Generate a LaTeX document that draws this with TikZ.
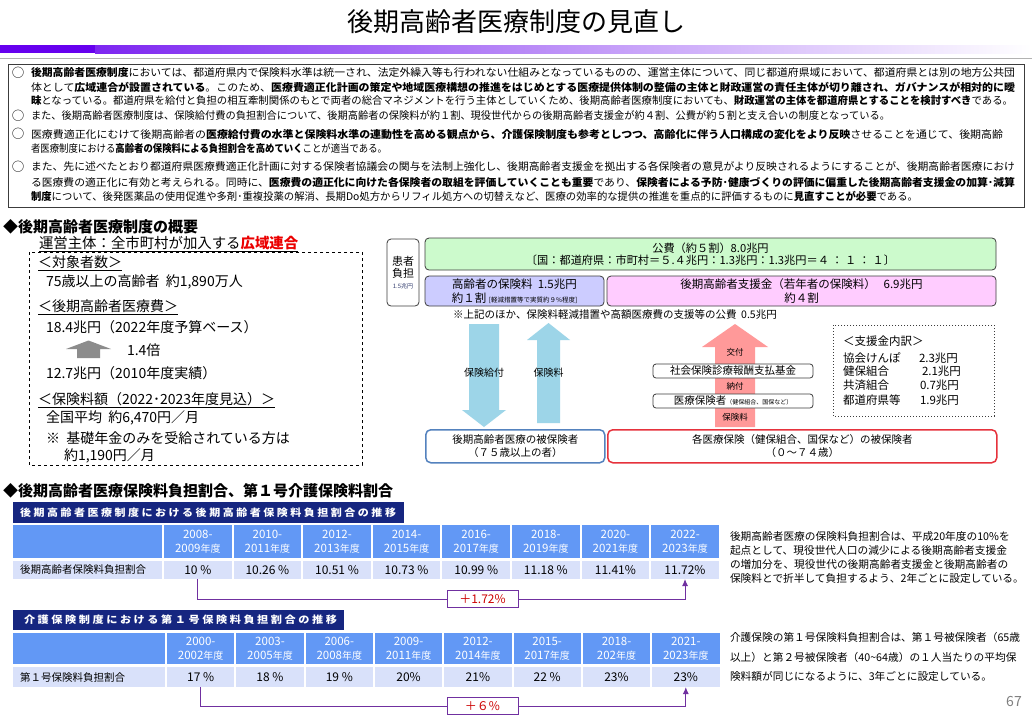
\documentclass[tikz,border=0pt]{standalone}
\usepackage{fontspec}
\usepackage{graphicx}
\setmainfont{Noto Sans CJK JP}
\usetikzlibrary{arrows.meta}
\definecolor{barpurple}{RGB}{102,0,238}
\definecolor{kgreen}{RGB}{204,250,204}
\definecolor{klav}{RGB}{204,204,255}
\definecolor{kpink}{RGB}{255,204,255}
\definecolor{lblue}{RGB}{157,213,232}
\definecolor{lpink}{RGB}{255,153,153}
\definecolor{bblue}{RGB}{84,130,190}
\definecolor{rred}{RGB}{230,50,60}
\definecolor{navy}{RGB}{22,38,128}
\definecolor{thblue}{RGB}{98,152,245}
\definecolor{tdata}{RGB}{217,225,250}
\definecolor{bpurp}{RGB}{112,48,160}
\definecolor{tred}{RGB}{204,0,0}
\definecolor{kred}{RGB}{235,0,0}
\definecolor{dgray}{RGB}{60,60,60}
\definecolor{txt}{RGB}{0,0,0}
\definecolor{smallblue}{RGB}{50,60,110}
\newcommand{\fitw}[2]{\resizebox{#1pt}{\height}{#2}}
\newcommand{\fsz}[2]{\fontsize{#1}{#2}\selectfont}
\newcommand{\yrs}[2]{#1-\\#2{\fsz{10}{14}年度}}
\tikzset{
  tl/.style={anchor=west, inner sep=0, outer sep=0},
  rbox/.style={draw=dgray, rounded corners=4, line width=0.8, inner sep=0, outer sep=0},
  hcell/.style={fill=thblue, text=white, inner sep=0, outer sep=0, minimum height=33, align=center, anchor=north west, font=\fsz{11.5}{14}},
  dcell/.style={fill=tdata, text=txt, inner sep=0, outer sep=0, anchor=north west, font=\fsz{12}{14}},
  brk/.style={draw=bpurp, line width=1},
  labbox/.style={draw=bpurp, fill=white, line width=0.9, text=tred, minimum width=71, minimum height=17, inner sep=0, font=\fsz{12}{14}},
  bartxt/.style={tl, text=white, font=\bfseries\fsz{10}{11}},
  circ/.style={tl, font=\fsz{12.5}{13}},
}
\begin{document}
\begin{tikzpicture}[x=1pt,y=-1pt]
\useasboundingbox (0,0) rectangle (1032,715);
\fill[white] (0,0) rectangle (1032,715);
% title
\node[font=\fsz{26}{30}, inner sep=0] (title) at (516,22) {後期高齢者医療制度の見直し};
\fill[barpurple] (0,45) rectangle (95,53);
\shade[left color=barpurple!85, right color=white] (95,45) rectangle (1032,53);
\draw[gray!60, line width=1] (0,58.5) -- (1032,58.5);
% top box
\node[draw=dgray, line width=1.3, minimum width=1016, minimum height=143, anchor=north west, inner sep=0] (topbox) at (8,64) {};
\begin{scope}[every node/.append style={font=\fsz{10.5}{12}, text=txt}]
\node[circ] (c1) at (12,73) {○};
\node[tl] (l1) at (31,73) {\fitw{984}{\textbf{後期高齢者医療制度}においては、都道府県内で保険料水準は統一され、法定外繰入等も行われない仕組みとなっているものの、運営主体について、同じ都道府県域において、都道府県とは別の地方公共団}};
\node[tl] (l2) at (31,87) {\fitw{984}{体として\textbf{広域連合が設置されている}。このため、\textbf{医療費適正化計画の策定や地域医療構想の推進をはじめとする医療提供体制の整備の主体と財政運営の責任主体が切り離され、ガバナンスが相対的に曖}}};
\node[tl] (l3) at (31,101) {\fitw{982}{\textbf{昧}となっている。都道府県を給付と負担の相互牽制関係のもとで両者の総合マネジメントを行う主体としていくため、後期高齢者医療制度においても、\textbf{財政運営の主体を都道府県とすることを検討すべき}である。}};
\node[circ] (c2) at (12,116) {○};
\node[tl] (l4) at (31,116) {\fitw{859}{また、後期高齢者医療制度は、保険給付費の負担割合について、後期高齢者の保険料が約１割、現役世代からの後期高齢者支援金が約４割、公費が約５割と支え合いの制度となっている。}};
\node[circ] (c3) at (12,134) {○};
\node[tl] (l5) at (31,134) {\fitw{972}{医療費適正化にむけて後期高齢者の\textbf{医療給付費の水準と保険料水準の連動性を高める観点から、介護保険制度も参考としつつ、高齢化に伴う人口構成の変化をより反映}させることを通じて、後期高齢}};
\node[tl] (l6) at (31,149) {\fitw{356}{者医療制度における\textbf{高齢者の保険料による負担割合を高めていく}ことが適当である。}};
\node[circ] (c4) at (12,167) {○};
\node[tl] (l7) at (31,167) {\fitw{984}{また、先に述べたとおり都道府県医療費適正化計画に対する保険者協議会の関与を法制上強化し、後期高齢者支援金を拠出する各保険者の意見がより反映されるようにすることが、後期高齢者医療におけ}};
\node[tl] (l8) at (31,182) {\fitw{984}{る医療費の適正化に有効と考えられる。同時に、\textbf{医療費の適正化に向けた各保険者の取組を評価していくことも重要}であり、\textbf{保険者による予防･健康づくりの評価に偏重した後期高齢者支援金の加算･減算}}};
\node[tl] (l9) at (31,196) {\fitw{887}{\textbf{制度}について、後発医薬品の使用促進や多剤･重複投薬の解消、長期Do処方からリフィル処方への切替えなど、医療の効率的な提供の推進を重点的に評価するものに\textbf{見直すことが必要}である。}};
\end{scope}
% section 2 left
\node[tl, font=\bfseries\fsz{15}{17}] (sec2) at (3,227) {◆後期高齢者医療制度の概要};
\node[tl, font=\fsz{14.4}{17}] (unei) at (39,244) {\underline{運営主体：全市町村が加入する\textbf{\color{kred}広域連合}}};
\draw[dashed, line width=0.8] (29,252) rectangle (362,465);
\begin{scope}[every node/.append style={font=\fsz{14}{17}, text=txt}]
\node[tl] (t1) at (38,263) {\underline{＜対象者数＞}};
\node[tl] (t2) at (46,282) {75歳以上の高齢者\ \ 約1,890万人};
\node[tl] (t3) at (38,307) {\underline{＜後期高齢者医療費＞}};
\node[tl] (t4) at (46,327) {18.4兆円（2022年度予算ベース）};
\node[tl] (t5) at (127,350) {1.4倍};
\node[tl] (t6) at (46,373) {12.7兆円（2010年度実績）};
\node[tl] (t7) at (38,400) {\underline{＜保険料額（2022･2023年度見込）＞}};
\node[tl] (t8) at (46,418) {全国平均\ \ 約6,470円／月};
\node[tl] (t9) at (46,438) {※\ \ 基礎年金のみを受給されている方は};
\node[tl] (t10) at (64,456) {約1,190円／月};
\end{scope}
\fill[gray!90] (88.5,340.5) -- (111,349) -- (100,349) -- (100,358) -- (77,358) -- (77,349) -- (66,349) -- cycle;
% right diagram
\node[rbox, fill=white, minimum width=32, minimum height=67, align=center, font=\fsz{11}{12}] (kanja) at (403,272.5) {患者\\負担\\[-1pt]{\fsz{6}{7}\color{smallblue}1.5兆円}};
\node[rbox, fill=kgreen, minimum width=571, minimum height=32, anchor=north west, align=center, font=\fsz{11.2}{12.5}] (kouhi) at (425,238) {公費（約５割）8.0兆円\\〔国：都道府県：市町村＝５.４兆円：1.3兆円：1.3兆円＝４ ： １ ： １〕};
\node[rbox, fill=klav, minimum width=179, minimum height=30, anchor=north west, align=center, font=\fsz{11.5}{14}] (hokenryo) at (425,276) {高齢者の保険料\ \ 1.5兆円\\約１割 {\fsz{6.5}{8}[軽減措置等で実質約９\%程度]}};
\node[rbox, fill=kpink, minimum width=389, minimum height=30, anchor=north west, align=center, font=\fsz{11.5}{14}] (shienkin) at (607,276) {後期高齢者支援金（若年者の保険料）\ \ \ 6.9兆円\\約４割};
\node[font=\fsz{10.5}{12}, inner sep=0] (note) at (615,315) {※上記のほか、保険料軽減措置や高額医療費の支援等の公費\ \ 0.5兆円};
% block arrows
\fill[lblue] (469,324) -- (499,324) -- (499,410) -- (506,410) -- (484,427) -- (462,410) -- (469,410) -- cycle;
\fill[lblue] (548.5,323) -- (570,340) -- (560,340) -- (560,423) -- (537,423) -- (537,340) -- (527,340) -- cycle;
\fill[lpink] (735,324) -- (768,347) -- (755,347) -- (755,427) -- (715,427) -- (715,347) -- (702,347) -- cycle;
\node[font=\fsz{10}{12}, text=txt, inner sep=0] (kyufu) at (484,373) {保険給付};
\node[font=\fsz{10}{12}, text=txt, inner sep=0] (ryo) at (548.5,373) {保険料};
\node[font=\fsz{8.5}{10}, text=txt, inner sep=0] (kofu) at (735,352) {交付};
\node[rbox, rounded corners=3, fill=white, minimum width=160, minimum height=14, font=\fsz{10.5}{12}] (kikin) at (733,371) {社会保険診療報酬支払基金};
\node[font=\fsz{8.5}{10}, text=txt, inner sep=0] (nofu) at (735,386) {納付};
\node[rbox, rounded corners=3, fill=white, minimum width=160, minimum height=14, font=\fsz{10.5}{12}] (hokensha) at (733,401) {医療保険者{\fsz{6}{7}（健保組合、国保など）}};
\node[font=\fsz{8.5}{10}, text=txt, inner sep=0] (ryo2) at (735,417) {保険料};
\node[draw=bblue, line width=1.5, rounded corners=5, fill=white, minimum width=179, minimum height=33, anchor=north west, align=center, inner sep=0, font=\fsz{10.5}{12.5}] (hiho1) at (425,429) {後期高齢者医療の被保険者\\（７５歳以上の者）};
\node[draw=rred, line width=1.5, rounded corners=5, fill=white, minimum width=389, minimum height=33, anchor=north west, align=center, inner sep=0, font=\fsz{10.5}{12.5}] (hiho2) at (607,429) {各医療保険（健保組合、国保など）の被保険者\\（０～７４歳）};
\draw[dotted, line width=1, dgray] (833,325) rectangle (994,416);
\begin{scope}[every node/.append style={font=\fsz{11.5}{13}, text=txt}]
\node[tl] (u0) at (843,341) {＜支援金内訳＞};
\node[tl] (u1) at (843,358) {協会けんぽ};
\node[tl] (u1v) at (919,358) {2.3兆円};
\node[tl] (u2) at (843,371) {健保組合};
\node[tl] (u2v) at (922,371) {2.1兆円};
\node[tl] (u3) at (843,385) {共済組合};
\node[tl] (u3v) at (920,385) {0.7兆円};
\node[tl] (u4) at (843,400) {都道府県等};
\node[tl] (u4v) at (920,400) {1.9兆円};
\end{scope}
% section 3
\node[tl, font=\bfseries\fsz{15}{17}] (sec3) at (3,491) {◆後期高齢者医療保険料負担割合、第１号介護保険料割合};
% table 1
\fill[navy] (13,502) rectangle (404,523);
\node[bartxt] (bar1) at (20,512.5) {\fitw{376}{後 期 高 齢 者 医 療 制 度 に お け る 後 期 高 齢 者 保 険 料 負 担 割 合 の 推 移}};
\node[hcell, minimum width=149] (h1l) at (13,525) {};
\foreach \i/\a/\b in {0/2008/2009,1/2010/2011,2/2012/2013,3/2014/2015,4/2016/2017,5/2018/2019,6/2020/2021,7/2022/2023}
  \node[hcell, minimum width=67.6] (h1\i) at ({164+69.6*\i},525) {\yrs{\a}{\b}};
\node[dcell, minimum width=149, minimum height=18, text width=135, align=left, font=\fsz{10.5}{12}] (d1l) at (13,561) {後期高齢者保険料負担割合};
\foreach \i/\v in {0/10 \%,1/10.26 \%,2/10.51 \%,3/10.73 \%,4/10.99 \%,5/11.18 \%,6/11.41\%,7/11.72\%}
  \node[dcell, minimum width=67.6, minimum height=18] (v1\i) at ({164+69.6*\i},561) {\v};
\node[labbox] (lab1) at (482.5,599) {＋1.72\%};
\draw[brk] (v10.south) |- (lab1.west);
\draw[brk, -{Latex[length=7pt,width=6pt]}] (lab1.east) -| (v17.south);
\node[tl, align=left, font=\fsz{10.7}{14}, text=txt] (desc1) at (730,557) {後期高齢者医療の保険料負担割合は、平成20年度の10\%を\\起点として、現役世代人口の減少による後期高齢者支援金\\の増加分を、現役世代の後期高齢者支援金と後期高齢者の\\保険料とで折半して負担するよう、2年ごとに設定している。};
% table 2
\fill[navy] (13,610) rectangle (344,630);
\node[bartxt] (bar2) at (24,620) {\fitw{313}{介 護 保 険 制 度 に お け る 第 １ 号 保 険 料 負 担 割 合 の 推 移}};
\node[hcell, minimum width=152, minimum height=31] (h2l) at (13,633) {};
\foreach \i/\a/\b in {0/2000/2002,1/2003/2005,2/2006/2008,3/2009/2011,4/2012/2014,5/2015/2017,6/2018/202,7/2021/2023}
  \node[hcell, minimum width=67.4, minimum height=31] (h2\i) at ({167+69.3*\i},633) {\yrs{\a}{\b}};
\node[dcell, minimum width=152, minimum height=20, text width=138, align=left, font=\fsz{10.5}{12}] (d2l) at (13,667) {第１号保険料負担割合};
\foreach \i/\v in {0/17 \%,1/18 \%,2/19 \%,3/20\%,4/21\%,5/22 \%,6/23\%,7/23\%}
  \node[dcell, minimum width=67.4, minimum height=20] (v2\i) at ({167+69.3*\i},667) {\v};
\node[labbox] (lab2) at (482.5,706) {＋６\%};
\draw[brk] (v20.south) |- (lab2.west);
\draw[brk, -{Latex[length=7pt,width=6pt]}] (lab2.east) -| (v27.south);
\node[tl, align=left, font=\fsz{10.7}{19.5}, text=txt] (desc2) at (730,657) {介護保険の第１号保険料負担割合は、第１号被保険者（65歳\\以上）と第２号被保険者（40\textasciitilde64歳）の１人当たりの平均保\\険料額が同じになるように、3年ごとに設定している。};
\node[font=\fsz{14}{16}, text=gray, inner sep=0] (page) at (1014,701) {67};
\end{tikzpicture}
\end{document}
